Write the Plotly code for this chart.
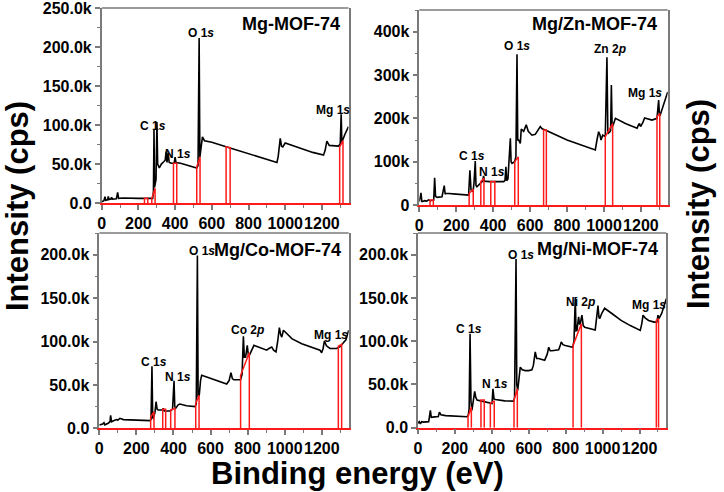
import plotly.graph_objects as go

FONT = "Liberation Sans"

# ---------------- data (binding energy in eV, intensity in k cps) ----------------
# Panel 1: Mg-MOF-74
mg_ev = [0, 12, 18, 22, 32, 36, 40, 50, 54, 58, 80, 87, 92, 120, 200, 265, 278, 282, 285, 288,
         296, 301, 305, 314, 325, 338, 346, 351, 356, 362, 368, 380, 395, 400, 405, 430, 470, 518,
         525, 531, 535, 540, 549, 560, 600, 682, 800, 955, 962, 973, 980, 987, 1000, 1050, 1150,
         1209, 1218, 1227, 1240, 1290, 1300, 1305, 1309, 1325, 1345]
mg_k = [1.5, 3, 8, 3.5, 4, 8.5, 4.5, 5, 7.5, 5, 5.5, 13.7, 6, 6.5, 6, 5.5, 6, 15, 94, 20,
        30, 104, 50, 45, 50, 53, 55, 66, 52, 64, 52, 51, 51, 59, 52, 51, 48, 45,
        48, 212, 59, 70, 85, 80, 78, 72, 63, 52, 60, 83, 73, 72, 77, 73, 65,
        61.5, 68, 79.5, 74, 73, 76, 114, 78, 88, 98]
mg_reg_lo = [233, 273, 391, 518, 678, 1297]
mg_reg_hi = [251, 291, 409, 536, 700, 1315]
mg_reg_ylo = [6, 6, 51, 46.5, 72, 72]
mg_reg_yhi = [6, 19, 51, 59, 71, 80]

# Panel 2: Mg/Zn-MOF-74
zn_ev = [0, 9, 14, 18, 30, 40, 50, 60, 78, 83, 88, 96, 123, 135, 140, 144, 200, 267, 274, 280,
         291, 296, 303, 307, 312, 330, 343, 348, 353, 380, 430, 457, 464, 469, 473, 480, 493, 497,
         502, 516, 523, 529, 533, 538, 547, 552, 565, 579, 590, 610, 628, 655, 665, 682, 800, 953,
         962, 971, 978, 984, 993, 1007, 1016, 1021, 1030, 1036, 1040, 1044, 1050, 1062, 1116,
         1179, 1185, 1192, 1198, 1210, 1220, 1260, 1287, 1296, 1300, 1305, 1345]
zn_k = [7.7, 28, 8, 8, 10, 9, 12, 10, 11.5, 63, 20, 17.7, 19, 44.6, 25, 27, 25, 23, 80, 35,
        31, 50, 101.5, 45, 42, 50, 55, 67, 55, 54, 54, 54, 57, 88, 56, 60, 154, 100,
        96, 100, 111, 348, 150, 150, 142, 175, 170, 185, 170, 161, 163, 181, 176, 173, 150, 127,
        150, 169, 162, 150, 161, 158, 341, 165, 168, 172, 277, 180, 185, 200, 188,
        177, 183, 188, 181, 190, 201, 196, 200, 242, 210, 208, 261]
zn_reg_lo = [58, 270, 333, 387, 517, 673, 1007, 1287]
zn_reg_hi = [76, 292, 350, 409, 536, 688, 1047, 1302]
zn_reg_ylo = [11.5, 27, 54, 54, 100, 173, 158, 204]
zn_reg_yhi = [11.5, 36, 62, 54, 111, 173, 188, 211]

# Panel 3: Mg/Co-MOF-74
co_ev = [0, 10, 18, 25, 30, 50, 58, 61, 66, 80, 93, 100, 111, 130, 200, 273, 279, 284, 288, 291,
         300, 306, 312, 318, 340, 345, 350, 381, 395, 403, 407, 412, 425, 435, 470, 516, 523, 529,
         533, 539, 546, 552, 579, 620, 687, 700, 710, 718, 726, 762, 770, 777, 782, 789, 794, 798,
         804, 809, 834, 870, 903, 915, 930, 940, 953, 962, 971, 978, 984, 993, 1040, 1092, 1150,
         1190, 1199, 1207, 1214, 1225, 1244, 1280, 1298, 1310, 1330, 1345]
co_k = [3.8, 4.5, 5, 6.5, 4, 6, 8, 15, 7.6, 9, 10, 9.5, 11.5, 10, 9.5, 8.8, 10, 71.5, 12, 11.5,
        18, 30.6, 22, 21, 21, 23, 20, 20, 22, 54.7, 25, 23, 27, 28, 26, 25, 28, 199,
        36, 38, 55, 61, 59, 56, 51, 55, 64, 57, 56, 56, 62, 106, 82, 82, 90, 95.6,
        84, 84, 95.6, 93, 90, 92, 93.7, 90, 88, 100, 116, 108, 105, 113, 103, 97.5, 93,
        90, 87, 92, 100.6, 95, 92, 92, 94, 97, 102, 113]
co_reg_lo = [277, 342, 385, 520, 762, 1289]
co_reg_hi = [295, 358, 408, 538, 809, 1307]
co_reg_ylo = [13, 22, 21, 28.7, 61, 94.5]
co_reg_yhi = [19, 22, 23, 38, 87, 96.7]

# Panel 4: Mg/Ni-MOF-74
ni_ev = [0, 7, 13, 20, 30, 58, 67, 72, 90, 110, 116, 124, 150, 200, 265, 272, 277, 282, 287, 292,
         300, 307, 313, 320, 340, 356, 380, 401, 406, 412, 419, 470, 518, 523, 531, 535, 540, 546,
         554, 565, 581, 600, 617, 625, 635, 643, 653, 686, 700, 708, 716, 726, 762, 769, 776, 785,
         798, 838, 845, 852, 856, 861, 866, 870, 875, 879, 884, 888, 895, 903, 960, 968, 975, 980,
         984, 995, 1011, 1050, 1100, 1150, 1204, 1212, 1219, 1230, 1249, 1280, 1294, 1300, 1305,
         1320, 1345]
ni_k = [5, 7, 4.5, 7, 6.5, 7, 20, 12, 12.5, 13, 18, 15, 14, 13.5, 12.7, 14, 22, 108.6, 30, 20,
        30, 42, 35, 32, 31, 30, 29, 28, 45, 33, 32.6, 31, 30.7, 35, 195, 50, 43, 55,
        70, 67, 66, 66, 67, 72, 87.5, 80, 80, 78, 85, 93, 89, 89, 90, 94, 99, 96,
        95, 93, 100, 151, 112, 112.5, 120, 128, 120, 120, 126, 130, 118, 116, 113, 125, 141, 128,
        126, 132, 138, 132, 124, 118, 112.5, 120, 130, 127, 124, 122, 122, 130, 126,
        132, 149]
ni_reg_lo = [271, 341, 392, 520, 840, 1291]
ni_reg_hi = [289, 359, 413, 538, 885, 1303]
ni_reg_ylo = [12.7, 32, 28, 32, 95, 124]
ni_reg_yhi = [24, 32, 31, 45, 120, 126]

# peak labels (text, eV, k cps)
mg_lab_text = ["C 1<i>s</i>", "N 1<i>s</i>", "O 1<i>s</i>", "Mg 1<i>s</i>"]
mg_lab_x = [282, 418, 542, 1258]
mg_lab_y = [99, 63, 219, 120]
zn_lab_text = ["C 1<i>s</i>", "N 1<i>s</i>", "O 1<i>s</i>", "Zn 2<i>p</i>", "Mg 1<i>s</i>"]
zn_lab_x = [285, 393, 529, 1034, 1224]
zn_lab_y = [114, 75, 368, 361, 258]
co_lab_text = ["C 1<i>s</i>", "N 1<i>s</i>", "O 1<i>s</i>", "Co 2<i>p</i>", "Mg 1<i>s</i>"]
co_lab_x = [295, 426, 552, 798, 1250]
co_lab_y = [76.5, 59, 204.6, 113.6, 108]
ni_lab_text = ["C 1<i>s</i>", "N 1<i>s</i>", "O 1<i>s</i>", "Ni 2<i>p</i>", "Mg 1<i>s</i>"]
ni_lab_x = [274, 419, 560, 879, 1253]
ni_lab_y = [113.6, 50, 200, 145, 142]

titles = ["Mg-MOF-74", "Mg/Zn-MOF-74", "Mg/Co-MOF-74", "Mg/Ni-MOF-74"]
x_ticks = [0, 200, 400, 600, 800, 1000, 1200]
x_ticktext = ["0", "200", "400", "600", "800", "1000", "1200"]
x_minor_ticks = [100, 300, 500, 700, 900, 1100, 1300]
y_ticks_k = [[0, 50, 100, 150, 200, 250], [0, 100, 200, 300, 400],
             [0, 50, 100, 150, 200], [0, 50, 100, 150, 200]]
y_ticktext = [["0.0", "50.0k", "100.0k", "150.0k", "200.0k", "250.0k"],
              ["0", "100k", "200k", "300k", "400k"],
              ["0.0", "50.0k", "100.0k", "150.0k", "200.0k"],
              ["0.0", "50.0k", "100.0k", "150.0k", "200.0k"]]
y_max = [250.5, 450, 225, 225]
y_minor = [25, 50, 25, 25]
x_max = 1345

# ---------------- layout (pixel geometry of the 724x492 page) ----------------
W, H = 724, 492
panel_px = [(101.7, 348.5, 8, 203), (419.3, 667.7, 10, 205),
            (99.3, 348.7, 233, 428.3), (418, 666.3, 233, 427.7)]
title_pos = [(0.972, 0.92), (0.964, 0.928), (0.978, 0.914), (0.976, 0.916)]

spectra = [(mg_ev, mg_k), (zn_ev, zn_k), (co_ev, co_k), (ni_ev, ni_k)]
regions = [(mg_reg_lo, mg_reg_hi, mg_reg_ylo, mg_reg_yhi),
           (zn_reg_lo, zn_reg_hi, zn_reg_ylo, zn_reg_yhi),
           (co_reg_lo, co_reg_hi, co_reg_ylo, co_reg_yhi),
           (ni_reg_lo, ni_reg_hi, ni_reg_ylo, ni_reg_yhi)]
labels = [(mg_lab_text, mg_lab_x, mg_lab_y), (zn_lab_text, zn_lab_x, zn_lab_y),
          (co_lab_text, co_lab_x, co_lab_y), (ni_lab_text, ni_lab_x, ni_lab_y)]

GRAY = "#7a7a7a"
RED = "#ff1a1a"

fig = go.Figure()
annotations = []
shapes = []
layout = {}

for i in range(4):
    sfx = "" if i == 0 else str(i + 1)
    xa, ya = "x" + sfx, "y" + sfx
    ev, k = spectra[i]
    lo, hi, ylo, yhi = regions[i]
    fig.add_trace(go.Scatter(x=ev, y=k, mode="lines", xaxis=xa, yaxis=ya,
                             line=dict(color="black", width=1.6), showlegend=False,
                             hoverinfo="skip"))
    rx, ry = [], []
    for a, b, c, d in zip(lo, hi, ylo, yhi):
        rx += [a, a, b, b, None]
        ry += [0, c, d, 0, None]
    fig.add_trace(go.Scatter(x=rx, y=ry, mode="lines", xaxis=xa, yaxis=ya,
                             line=dict(color=RED, width=1.5), showlegend=False,
                             hoverinfo="skip"))

    x0p, x1p, y0p, y1p = panel_px[i]
    layout["xaxis" + sfx] = dict(
        domain=[x0p / W, x1p / W], anchor=ya, range=[0, x_max],
        tickmode="array", tickvals=x_ticks, ticktext=x_ticktext, tickangle=0,
        ticks="outside", ticklen=5, tickwidth=1.5, tickcolor=GRAY,
        showline=True, linecolor=RED, linewidth=1.5, mirror=False,
        showgrid=False, zeroline=False, automargin=False,
        tickfont=dict(family=FONT, size=16, color="black", weight="bold"),
        minor=dict(ticks="outside", ticklen=3, tickwidth=1.2, tickcolor=GRAY,
                   tickmode="array", tickvals=x_minor_ticks),
    )
    layout["yaxis" + sfx] = dict(
        domain=[1 - y1p / H, 1 - y0p / H], anchor=xa, range=[0, y_max[i]],
        tickmode="array", tickvals=y_ticks_k[i], ticktext=y_ticktext[i], tickangle=0,
        ticks="outside", ticklen=5, tickwidth=1.5, tickcolor=GRAY,
        showline=True, linecolor=GRAY, linewidth=1.5, mirror=True,
        showgrid=False, zeroline=False, automargin=False,
        tickfont=dict(family=FONT, size=16, color="black", weight="bold"),
        minor=dict(ticks="outside", ticklen=3, tickwidth=1.2, tickcolor=GRAY,
                   dtick=y_minor[i], tick0=0),
    )
    shapes.append(dict(type="line", xref=xa + " domain", yref=ya + " domain",
                       x0=0, x1=1, y0=1, y1=1, line=dict(color=GRAY, width=1.5)))
    tx, ty = title_pos[i]
    annotations.append(dict(text="<b>" + titles[i] + "</b>", xref=xa + " domain",
                            yref=ya + " domain", x=tx, y=ty, xanchor="right",
                            yanchor="middle", showarrow=False,
                            font=dict(family=FONT, size=18, color="black")))
    lt, lx, ly = labels[i]
    for t, xv, yv in zip(lt, lx, ly):
        annotations.append(dict(text="<b>" + t + "</b>", xref=xa, yref=ya, x=xv, y=yv,
                                xanchor="center", yanchor="middle", showarrow=False,
                                font=dict(family=FONT, size=12, color="black")))

# axis titles
annotations.append(dict(text="<b>Intensity (cps)</b>", xref="paper", yref="paper",
                        x=17 / W, y=1 - 206 / H, textangle=-90, showarrow=False,
                        xanchor="center", yanchor="middle",
                        font=dict(family=FONT, size=31, color="black")))
annotations.append(dict(text="<b>Intensity (cps)</b>", xref="paper", yref="paper",
                        x=699 / W, y=1 - 204 / H, textangle=-90, showarrow=False,
                        xanchor="center", yanchor="middle",
                        font=dict(family=FONT, size=31, color="black")))
annotations.append(dict(text="<b>Binding energy (eV)</b>", xref="paper", yref="paper",
                        x=357 / W, y=1 - 473 / H, showarrow=False,
                        xanchor="center", yanchor="middle",
                        font=dict(family=FONT, size=31, color="black")))

fig.update_layout(
    width=W, height=H, margin=dict(l=0, r=0, t=0, b=0, autoexpand=False),
    paper_bgcolor="white", plot_bgcolor="white",
    annotations=annotations, shapes=shapes, showlegend=False,
    font=dict(family=FONT), **layout,
)

fig.write_html("out.html", config={"displayModeBar": False},
               post_script="document.body.style.margin='0px';"
                           "document.body.style.overflow='hidden';")
